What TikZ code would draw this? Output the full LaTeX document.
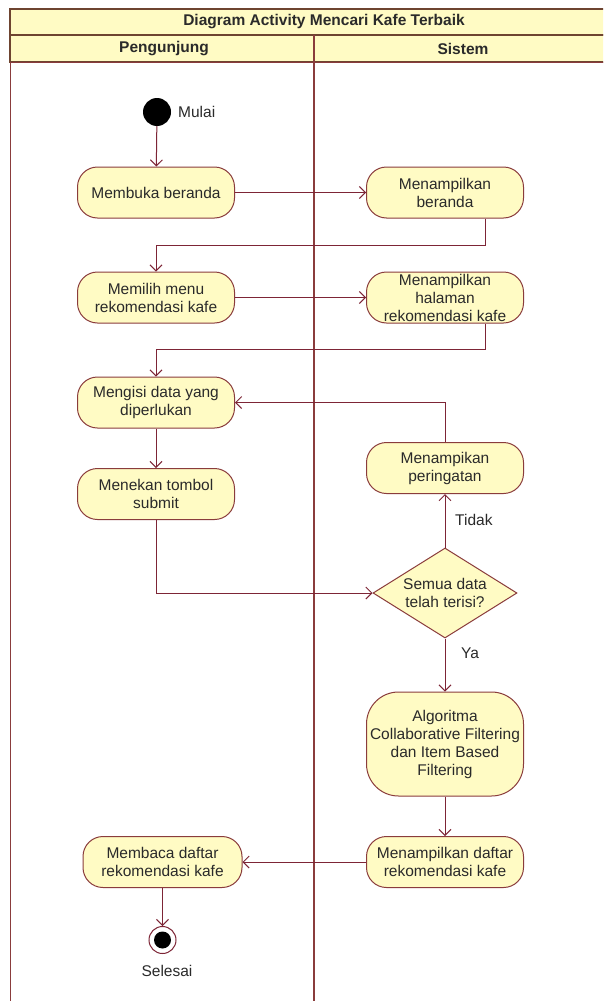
\documentclass[tikz,border=0pt]{standalone}
\usepackage{fontspec}
\setmainfont{Liberation Sans}
\usetikzlibrary{arrows.meta,shapes.geometric}
\definecolor{boxfill}{HTML}{FFFBC4}
\definecolor{boxc}{HTML}{8A3C3C}
\definecolor{linec}{HTML}{7D2536}
\definecolor{framec}{HTML}{6E4430}
\definecolor{txtc}{HTML}{2A2A2A}
\newcommand\nfont{\fontsize{15.5}{18}\selectfont}
\newcommand\hfont{\fontsize{15.5}{18}\selectfont\bfseries}
\tikzset{
  act/.style={draw=boxc, fill=boxfill, rounded corners=20pt, minimum width=157pt,
    minimum height=51pt, align=center, inner sep=0pt, font=\nfont, text=txtc, line width=1pt},
  decision/.style={draw=boxc, fill=boxfill, diamond, minimum width=144pt, minimum height=90pt,
    inner sep=0pt, line width=1pt},
  lbl/.style={font=\nfont, text=txtc, align=center, inner sep=0pt},
  hdr/.style={font=\hfont, text=txtc, inner sep=0pt},
  conn/.style={draw=linec, line width=1pt, -{Straight Barb[length=6pt,width=12pt,line width=1pt]}},
}
\begin{document}
\begin{tikzpicture}[x=1pt,y=-1pt]
\useasboundingbox (0,0) rectangle (603,1001);
\clip (0,0) rectangle (603,1001);
\fill[white] (0,0) rectangle (603,1001);
% frame
\draw[framec, fill=boxfill, line width=1.2pt] (10,9) rectangle (625,35);
\draw[framec, fill=boxfill, line width=1.2pt] (10,35) rectangle (625,62);
\draw[boxc, line width=1pt] (10,62) rectangle (625,1010);
\draw[boxc, line width=1.2pt] (314,35) -- (314,1010);
\node[hdr] (title) at (324,22) {Diagram Activity Mencari Kafe Terbaik};
\node[hdr] (lane1) at (164,48.5) {Pengunjung};
\node[hdr] (lane2) at (463,48.5) {Sistem};
% nodes
\node[circle, fill=black, minimum size=28pt, inner sep=0pt] (start) at (157,112) {};
\node[lbl, anchor=west] (mulai) at (178,112) {Mulai};
\node[act] (b1) at (156,192.5) {Membuka beranda};
\node[act] (s1) at (445,192.5) {Menampilkan\\beranda};
\node[act] (b2) at (156,297.5) {Memilih menu\\rekomendasi kafe};
\node[act] (s2) at (445,297.5) {Menampilkan\\halaman\\rekomendasi kafe};
\node[act] (b3) at (156,402.5) {Mengisi data yang\\diperlukan};
\node[act] (b4) at (156,494) {Menekan tombol\\submit};
\node[act] (s3) at (445,468) {Menampikan\\peringatan};
\node[decision] (d) at (445,593) {};
\node[lbl] (dtext) at (445,593) {Semua data\\telah terisi?};
\node[act, minimum height=104pt, rounded corners=32pt] (s4) at (445,744) {Algoritma\\Collaborative Filtering\\dan Item Based\\Filtering};
\node[act] (s5) at (445,862) {Menampilkan daftar\\rekomendasi kafe};
\node[act, minimum width=159pt] (b5) at (162.5,862) {Membaca daftar\\rekomendasi kafe};
\node[circle, draw=linec, fill=white, line width=1pt, minimum size=27pt, inner sep=0pt] (end) at (162.5,940) {};
\node[circle, fill=black, minimum size=17pt, inner sep=0pt] (endin) at (end) {};
\node[lbl] (selesai) at (167,971) {Selesai};
\node[lbl, anchor=west] (tidak) at (455,520) {Tidak};
\node[lbl, anchor=west] (ya) at (461,653) {Ya};
% helper coordinates
\coordinate (k1) at (485,245);
\coordinate (k2) at (485,349);
% connectors
\draw[conn] (start) -- (b1);
\draw[conn] (b1) -- (s1);
\draw[conn] (s1.south -| k1) -- (k1) -| (b2.north);
\draw[conn] (b2) -- (s2);
\draw[conn] (s2.south -| k2) -- (k2) -| (b3.north);
\draw[conn] (s3.north) |- (b3.east);
\draw[conn] (b3) -- (b4);
\draw[conn] (b4.south) |- (d.west);
\draw[conn] (d.north) -- (s3.south);
\draw[conn] (d.south) -- (s4.north);
\draw[conn] (s4) -- (s5);
\draw[conn] (s5) -- (b5);
\draw[conn] (b5) -- (end);
\end{tikzpicture}
\end{document}
